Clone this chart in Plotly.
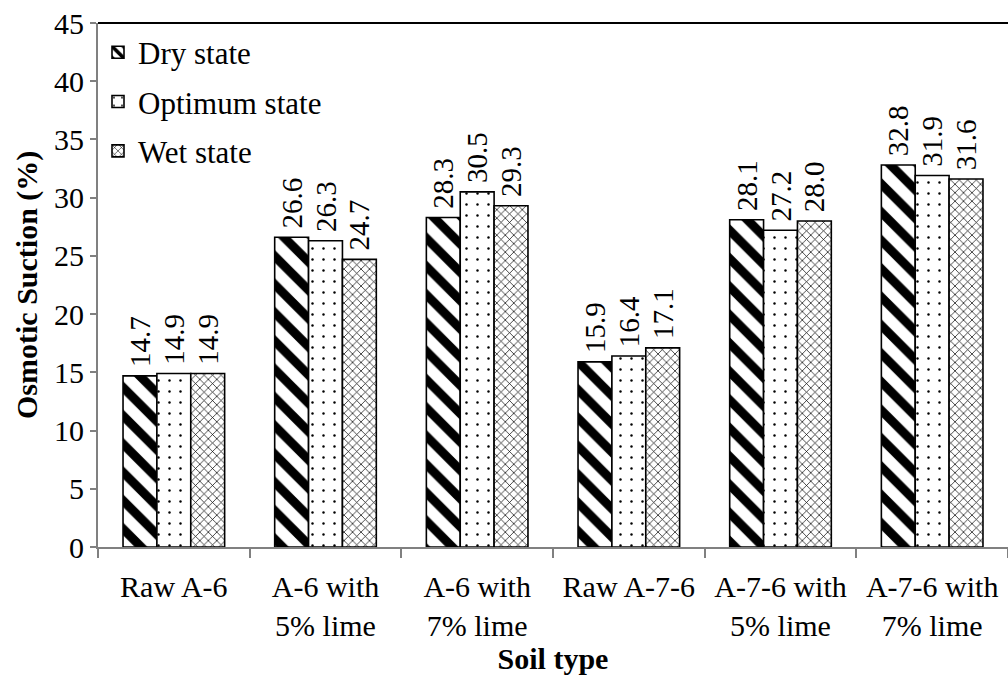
import plotly.graph_objects as go

categories = ["Raw A-6", "A-6 with<br>5% lime", "A-6 with<br>7% lime", "Raw A-7-6",
              "A-7-6 with<br>5% lime", "A-7-6 with<br>7% lime"]
dry = [14.7, 26.6, 28.3, 15.9, 28.1, 32.8]
optimum = [14.9, 26.3, 30.5, 16.4, 27.2, 31.9]
wet = [14.9, 24.7, 29.3, 17.1, 28.0, 31.6]
series_names = ["Dry state", "Optimum state", "Wet state"]

FONT = "Liberation Serif, Times New Roman, serif"
FS = 30

patterns = [
    dict(shape="\\", size=20, solidity=0.45, fgcolor="black", bgcolor="white", fgopacity=1),
    dict(shape=".", size=11, solidity=0.04, fgcolor="black", bgcolor="white", fgopacity=1),
    dict(shape="x", size=6, solidity=0.22, fgcolor="black", bgcolor="white", fgopacity=1),
]

fig = go.Figure()
for i, (name, vals, pat) in enumerate(zip(series_names, [dry, optimum, wet], patterns)):
    fig.add_trace(go.Bar(
        x=categories, y=vals, name=name, legendgroup=f"g{i}",
        marker=dict(color="white", pattern=pat, line=dict(color="black", width=1.6)),
        text=[f"\u2009{v:.1f}" for v in vals], textposition="outside", textangle=-90,
        constraintext="none",
        textfont=dict(family=FONT, size=29, color="black"),
        cliponaxis=False,
    ))

fig.update_layout(
    width=1008, height=677,
    margin=dict(l=98, r=0, t=23, b=130, autoexpand=False),
    paper_bgcolor="white", plot_bgcolor="white",
    barmode="group", bargap=0.33, bargroupgap=0,
    font=dict(family=FONT, size=FS, color="black"),
    legend=dict(x=0.0, y=0.995, xanchor="left", yanchor="top",
                bgcolor="rgba(0,0,0,0)", font=dict(size=31, family=FONT),
                itemwidth=30, tracegroupgap=6, traceorder="grouped"),
    showlegend=True,
)
fig.update_xaxes(
    showline=True, linecolor="#808080", linewidth=2,
    ticks="outside", tickson="boundaries", ticklen=9, tickcolor="#808080", tickwidth=2,
    tickfont=dict(family=FONT, size=FS, color="black"), ticklabelstandoff=12,
    title=dict(text="<b>Soil type</b>", font=dict(family=FONT, size=FS), standoff=6),
    showgrid=False, automargin=False,
)
fig.update_yaxes(
    range=[0, 45], dtick=5, showline=True, linecolor="#808080", linewidth=2,
    ticks="outside", ticklen=6, tickcolor="#808080", tickwidth=2,
    tickfont=dict(family=FONT, size=FS, color="black"),
    showgrid=False, zeroline=False, automargin=False,
)
fig.add_annotation(text="<b>Osmotic Suction (%)</b>", textangle=-90,
                   xref="paper", yref="paper", x=(27 - 98) / 910, y=0.5,
                   xanchor="center", yanchor="middle", showarrow=False,
                   font=dict(family=FONT, size=FS, color="black"))
fig.add_shape(type="line", xref="paper", yref="paper", x0=0, x1=1, y0=1, y1=1,
              line=dict(color="black", width=2))

fig.write_html("out.html", config={"displayModeBar": False},
               post_script="document.body.style.margin='0';document.body.style.overflow='hidden';")
